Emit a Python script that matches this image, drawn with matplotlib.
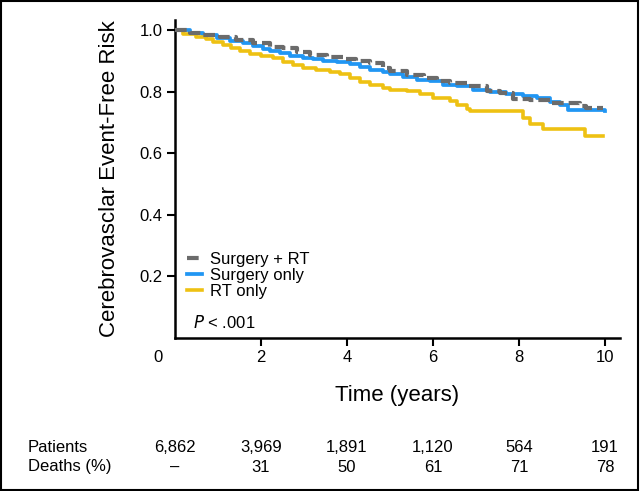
import matplotlib
matplotlib.use('Agg')
import matplotlib.pyplot as plt
from matplotlib.patches import Rectangle
import matplotlib.transforms as mtransforms

# 곡선 데이터 (시간, 생존 비율)
surg_rt_t = [0, 0.35, 0.66, 1.05, 1.43, 1.82, 2.21, 2.52, 2.83, 3.14, 3.53, 3.91, 4.22, 4.53, 4.84,
             5.0, 5.39, 5.78, 6.09, 6.4, 6.78, 7.25, 7.56, 7.87, 8.26, 8.72, 9.42, 9.57, 9.96]
surg_rt_v = [1.0, 0.990, 0.984, 0.979, 0.968, 0.957, 0.946, 0.941, 0.930, 0.919, 0.914, 0.906, 0.900,
             0.892, 0.878, 0.866, 0.855, 0.845, 0.834, 0.828, 0.817, 0.801, 0.796, 0.776, 0.774, 0.765,
             0.754, 0.747, 0.747]

surg_t = [0, 0.35, 0.66, 0.97, 1.28, 1.59, 1.82, 2.05, 2.21, 2.44, 2.67, 2.98, 3.22, 3.45, 3.76, 4.07,
          4.3, 4.53, 4.84, 5.0, 5.31, 5.62, 5.93, 6.24, 6.55, 6.94, 7.33, 7.71, 8.1, 8.41, 8.72, 8.95,
          9.15, 10.0]
surg_v = [1.0, 0.990, 0.984, 0.976, 0.966, 0.957, 0.950, 0.939, 0.932, 0.925, 0.916, 0.908, 0.905, 0.901,
          0.898, 0.889, 0.881, 0.871, 0.863, 0.857, 0.848, 0.839, 0.834, 0.823, 0.817, 0.807, 0.798, 0.793,
          0.787, 0.781, 0.768, 0.758, 0.741, 0.739]

rt_t = [0, 0.19, 0.5, 0.73, 0.89, 1.12, 1.31, 1.51, 1.74, 2.01, 2.29, 2.52, 2.75, 2.98, 3.29, 3.6, 3.84,
        4.07, 4.3, 4.53, 4.84, 5.0, 5.39, 5.7, 6.01, 6.4, 6.55, 6.78, 6.86, 8.1, 8.25, 8.56, 9.53, 9.96]
rt_v = [1.0, 0.986, 0.979, 0.971, 0.960, 0.952, 0.943, 0.932, 0.923, 0.916, 0.908, 0.898, 0.887, 0.878,
        0.871, 0.865, 0.856, 0.846, 0.833, 0.822, 0.811, 0.807, 0.801, 0.793, 0.780, 0.771, 0.758, 0.744,
        0.739, 0.714, 0.695, 0.678, 0.657, 0.657]

labels = ['Surgery + RT', 'Surgery only', 'RT only']
colors = ['#6b6b6b', '#2196f3', '#eec113']

# 위험군 표
risk_times = [0, 2, 4, 6, 8, 10]
patients = ['6,862', '3,969', '1,891', '1,120', '564', '191']
deaths = ['\u2013', '31', '50', '61', '71', '78']

plt.rcParams['font.family'] = ['Liberation Sans', 'DejaVu Sans']

fig = plt.figure(figsize=(6.4, 4.91), dpi=100)
ax = fig.add_axes([175 / 640, 1 - 338 / 491, 445 / 640, 318 / 491])

ax.step(surg_t, surg_v, where='post', color=colors[1], lw=2.7, label=labels[1], zorder=2)
ax.step(surg_rt_t, surg_rt_v, where='post', color=colors[0], lw=3.0, dashes=(2.8, 1.2),
        label=labels[0], zorder=3)
ax.step(rt_t, rt_v, where='post', color=colors[2], lw=2.6, label=labels[2], zorder=2)

ax.set_xlim(0, 10.35)
ax.set_ylim(0, 1.033)
ax.set_xticks([2, 4, 6, 8, 10])
ax.set_yticks([0.2, 0.4, 0.6, 0.8, 1.0])
ax.set_yticklabels(['0.2', '0.4', '0.6', '0.8', '1.0'])
ax.tick_params(direction='out', length=6, width=1.5, labelsize=12, pad=3)
for s in ['top', 'right']:
    ax.spines[s].set_visible(False)
for s in ['left', 'bottom']:
    ax.spines[s].set_linewidth(1.8)

ax.text(-0.4, -0.06, '0', transform=mtransforms.blended_transform_factory(ax.transData, ax.transAxes),
        ha='center', va='center', fontsize=12)

ax.set_ylabel('Cerebrovasclar Event-Free Risk', fontsize=16, labelpad=14)
ax.set_xlabel('Time (years)', fontsize=16, labelpad=14)

# 범례
h, l = ax.get_legend_handles_labels()
order = [1, 0, 2]
ax.legend([h[i] for i in order], [l[i] for i in order], loc='lower left',
          bbox_to_anchor=(0.0, 0.087), frameon=False, fontsize=12,
          handlelength=0.9, handletextpad=0.5, labelspacing=0.05, borderaxespad=0.3)

ax.text(0.04, 0.05, r'$P$ < .001', transform=ax.transAxes, fontsize=12, va='center')

# 위험군 표 텍스트
trans = mtransforms.blended_transform_factory(ax.transData, fig.transFigure)
fig.text(28 / 640, 1 - 447 / 491, 'Patients', fontsize=12, va='center')
fig.text(28 / 640, 1 - 467 / 491, 'Deaths (%)', fontsize=12, va='center')
for t, p, d in zip(risk_times, patients, deaths):
    ax.text(t, 1 - 447 / 491, p, transform=trans, ha='center', va='center', fontsize=12)
    ax.text(t, 1 - 467 / 491, d, transform=trans, ha='center', va='center', fontsize=12)

# 테두리
fig.patches.append(Rectangle((0.002, 0.003), 0.995, 0.994, transform=fig.transFigure,
                             fill=False, edgecolor='black', lw=1.5))

fig.savefig('out.png', dpi=100)
